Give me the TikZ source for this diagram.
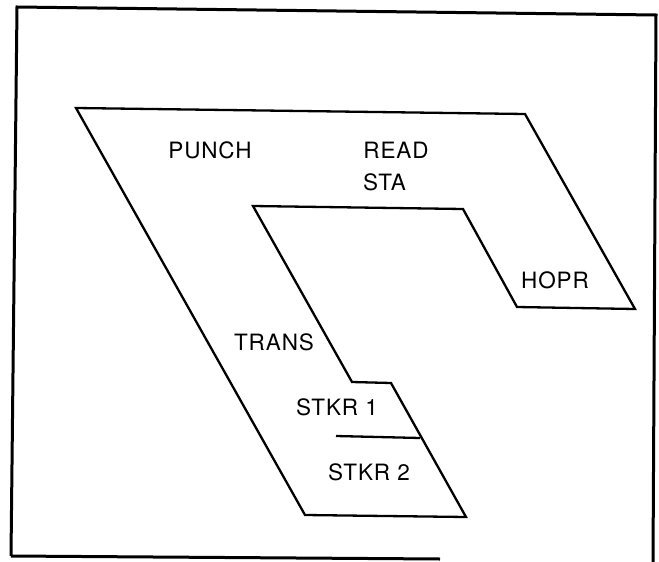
\documentclass[tikz,border=0pt]{standalone}
\usepackage{fontspec}
\setmainfont{TeX Gyre Heros}
\begin{document}
\begin{tikzpicture}[x=1pt,y=-1pt,
  lbl/.style={font=\fontsize{22.5}{24}\selectfont\addfontfeature{LetterSpace=4}, inner sep=0pt},
  outline/.style={line width=2.3pt, line join=miter},
  framel/.style={line width=3pt}]
\useasboundingbox (0,0) rectangle (659,562);
% frame
\draw[framel] (11,556) -- (17,7) -- (656,15) -- (653,562);
\draw[framel] (11,556) -- (440,559);
% machine outline
\draw[outline] (76,108) -- (525,114) -- (635,309) -- (517,307) -- (463,209)
  -- (253,206) -- (352,382) -- (391,383) -- (466,517) -- (305,515) -- cycle;
% stacker divider
\coordinate (d1) at (336,436);
\coordinate (d2) at (420,438);
\draw[outline] (d1) -- (d2);
% labels
\node[lbl] (punch) at (210,150) {PUNCH};
\node[lbl] (read) at (396,150) {READ};
\node[lbl, anchor=west] (sta) at (363,182) {STA};
\node[lbl] (hopr) at (555,280) {HOPR};
\node[lbl] (trans) at (274,342) {TRANS};
\node[lbl] (stkr1) at (337,407) {STKR 1};
\node[lbl] (stkr2) at (369,472) {STKR 2};
\end{tikzpicture}
\end{document}
